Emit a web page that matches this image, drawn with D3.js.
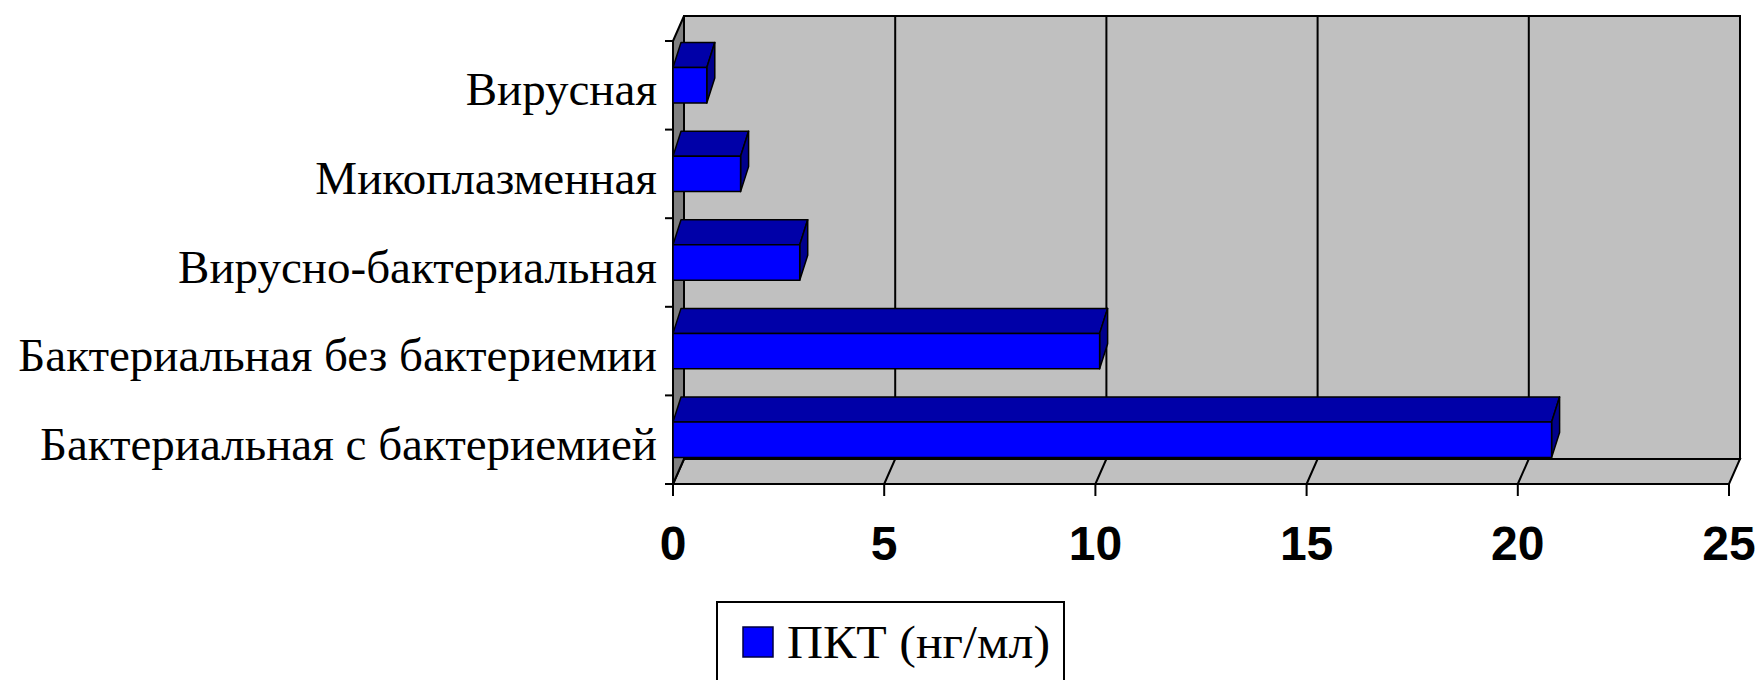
<!DOCTYPE html>
<html lang="ru">
<head>
    <meta charset="UTF-8" />
    <title>ПКТ (нг/мл)</title>
    <script src="https://d3js.org/d3.v7.min.js"></script>
    <style>
        html, body { margin: 0; padding: 0; background: #fff; }
        svg { display: block; }
        .cat { font-family: "Liberation Serif", "Times New Roman", serif; font-size: 47px; fill: #000; }
        .tick-label { font-family: "Liberation Sans", Arial, sans-serif; font-size: 48px; font-weight: bold; fill: #000; }
        .legend-text { font-family: "Liberation Serif", "Times New Roman", serif; font-size: 46px; fill: #000; }
    </style>
</head>
<body>
<div id="chart"></div>
<script>
    // --- Data ---
    const categories = [
        "Вирусная",
        "Микоплазменная",
        "Вирусно-бактериальная",
        "Бактериальная без бактериемии",
        "Бактериальная с бактериемией"
    ];
    const pktValues = [0.8, 1.6, 3.0, 10.1, 20.8];
    const xTicks = [0, 5, 10, 15, 20, 25];
    const seriesName = "ПКТ (нг/мл)";

    // --- Setup ---
    const width = 1760, height = 680;
    const svg = d3.select("#chart").append("svg")
        .attr("width", width)
        .attr("height", height);

    // front plane of the 3d box
    const x = d3.scaleLinear().domain([0, 25]).range([673, 1729]);
    const y = d3.scaleBand().domain(categories).range([41, 484]).paddingInner(0).paddingOuter(0);

    // wall depth and bar depth (pseudo 3d offsets)
    const wdx = 11, wdy = 25;
    const bdx = 8, bdy = 25;
    const barH = y.bandwidth() * 0.4;

    const x0 = x(0), x1 = x(25);
    const yTop = y.range()[0], yBot = y.range()[1];

    const poly = pts => pts.map(p => p.join(",")).join(" ");

    // back wall
    svg.append("polygon")
        .attr("points", poly([[x0 + wdx, yTop - wdy], [x1 + wdx, yTop - wdy], [x1 + wdx, yBot - wdy], [x0 + wdx, yBot - wdy]]))
        .attr("fill", "#c0c0c0")
        .attr("stroke", "#000")
        .attr("stroke-width", 2);

    // floor
    svg.append("polygon")
        .attr("points", poly([[x0, yBot], [x1, yBot], [x1 + wdx, yBot - wdy], [x0 + wdx, yBot - wdy]]))
        .attr("fill", "#c0c0c0")
        .attr("stroke", "#000")
        .attr("stroke-width", 2);

    // left wall
    svg.append("polygon")
        .attr("points", poly([[x0, yTop], [x0 + wdx, yTop - wdy], [x0 + wdx, yBot - wdy], [x0, yBot]]))
        .attr("fill", "#808080")
        .attr("stroke", "#000")
        .attr("stroke-width", 2);

    // gridlines on back wall and floor
    const grid = svg.append("g").attr("stroke", "#000").attr("stroke-width", 2).attr("fill", "none");
    xTicks.filter(t => t > 0 && t < 25).forEach(t => {
        grid.append("polyline")
            .attr("points", poly([[x(t) + wdx, yTop - wdy], [x(t) + wdx, yBot - wdy], [x(t), yBot]]));
    });

    // axis lines and ticks
    const axes = svg.append("g").attr("stroke", "#000").attr("stroke-width", 2);
    axes.append("line").attr("x1", x0).attr("x2", x0).attr("y1", yTop).attr("y2", yBot + 12);
    axes.append("line").attr("x1", x0 - 8).attr("x2", x1).attr("y1", yBot).attr("y2", yBot);
    const catTicks = categories.map(c => y(c)).concat([yBot]);
    catTicks.forEach(v => {
        axes.append("line").attr("x1", x0 - 8).attr("x2", x0).attr("y1", v).attr("y2", v);
    });
    xTicks.forEach(t => {
        axes.append("line").attr("x1", x(t)).attr("x2", x(t)).attr("y1", yBot).attr("y2", yBot + 12);
    });

    // x tick labels
    svg.append("g").selectAll("text")
        .data(xTicks)
        .join("text")
        .attr("class", "tick-label")
        .attr("x", d => x(d))
        .attr("y", 560)
        .attr("text-anchor", "middle")
        .text(d => d);

    // category labels
    svg.append("g").selectAll("text")
        .data(categories)
        .join("text")
        .attr("class", "cat")
        .attr("x", 657)
        .attr("y", d => y(d) + y.bandwidth() / 2 + 20)
        .attr("text-anchor", "end")
        .text(d => d);

    // bars
    const bars = svg.append("g")
        .attr("stroke", "#000")
        .attr("stroke-width", 1.5)
        .attr("stroke-linejoin", "round");

    categories.forEach((c, i) => {
        const v = pktValues[i];
        const cy = y(c) + y.bandwidth() / 2;
        const t = cy - barH / 2, b = cy + barH / 2;
        const xr = x(v);
        // top face
        bars.append("polygon")
            .attr("points", poly([[x0, t], [xr, t], [xr + bdx, t - bdy], [x0 + bdx, t - bdy]]))
            .attr("fill", "#0000a8");
        // side face
        bars.append("polygon")
            .attr("points", poly([[xr, t], [xr + bdx, t - bdy], [xr + bdx, b - bdy], [xr, b]]))
            .attr("fill", "#00008c");
        // front face
        bars.append("rect")
            .attr("x", x0)
            .attr("y", t)
            .attr("width", xr - x0)
            .attr("height", barH)
            .attr("fill", "#0000ff");
    });

    // legend
    const legend = svg.append("g");
    legend.append("rect")
        .attr("x", 717).attr("y", 602)
        .attr("width", 347).attr("height", 110)
        .attr("fill", "#fff")
        .attr("stroke", "#000")
        .attr("stroke-width", 2);
    legend.append("rect")
        .attr("x", 743).attr("y", 627)
        .attr("width", 30).attr("height", 30)
        .attr("fill", "#0000ff")
        .attr("stroke", "#000040")
        .attr("stroke-width", 1.5);
    legend.append("text")
        .attr("class", "legend-text")
        .attr("x", 787)
        .attr("y", 658)
        .attr("textLength", 263)
        .attr("lengthAdjust", "spacingAndGlyphs")
        .text(seriesName);
</script>
</body>
</html>
